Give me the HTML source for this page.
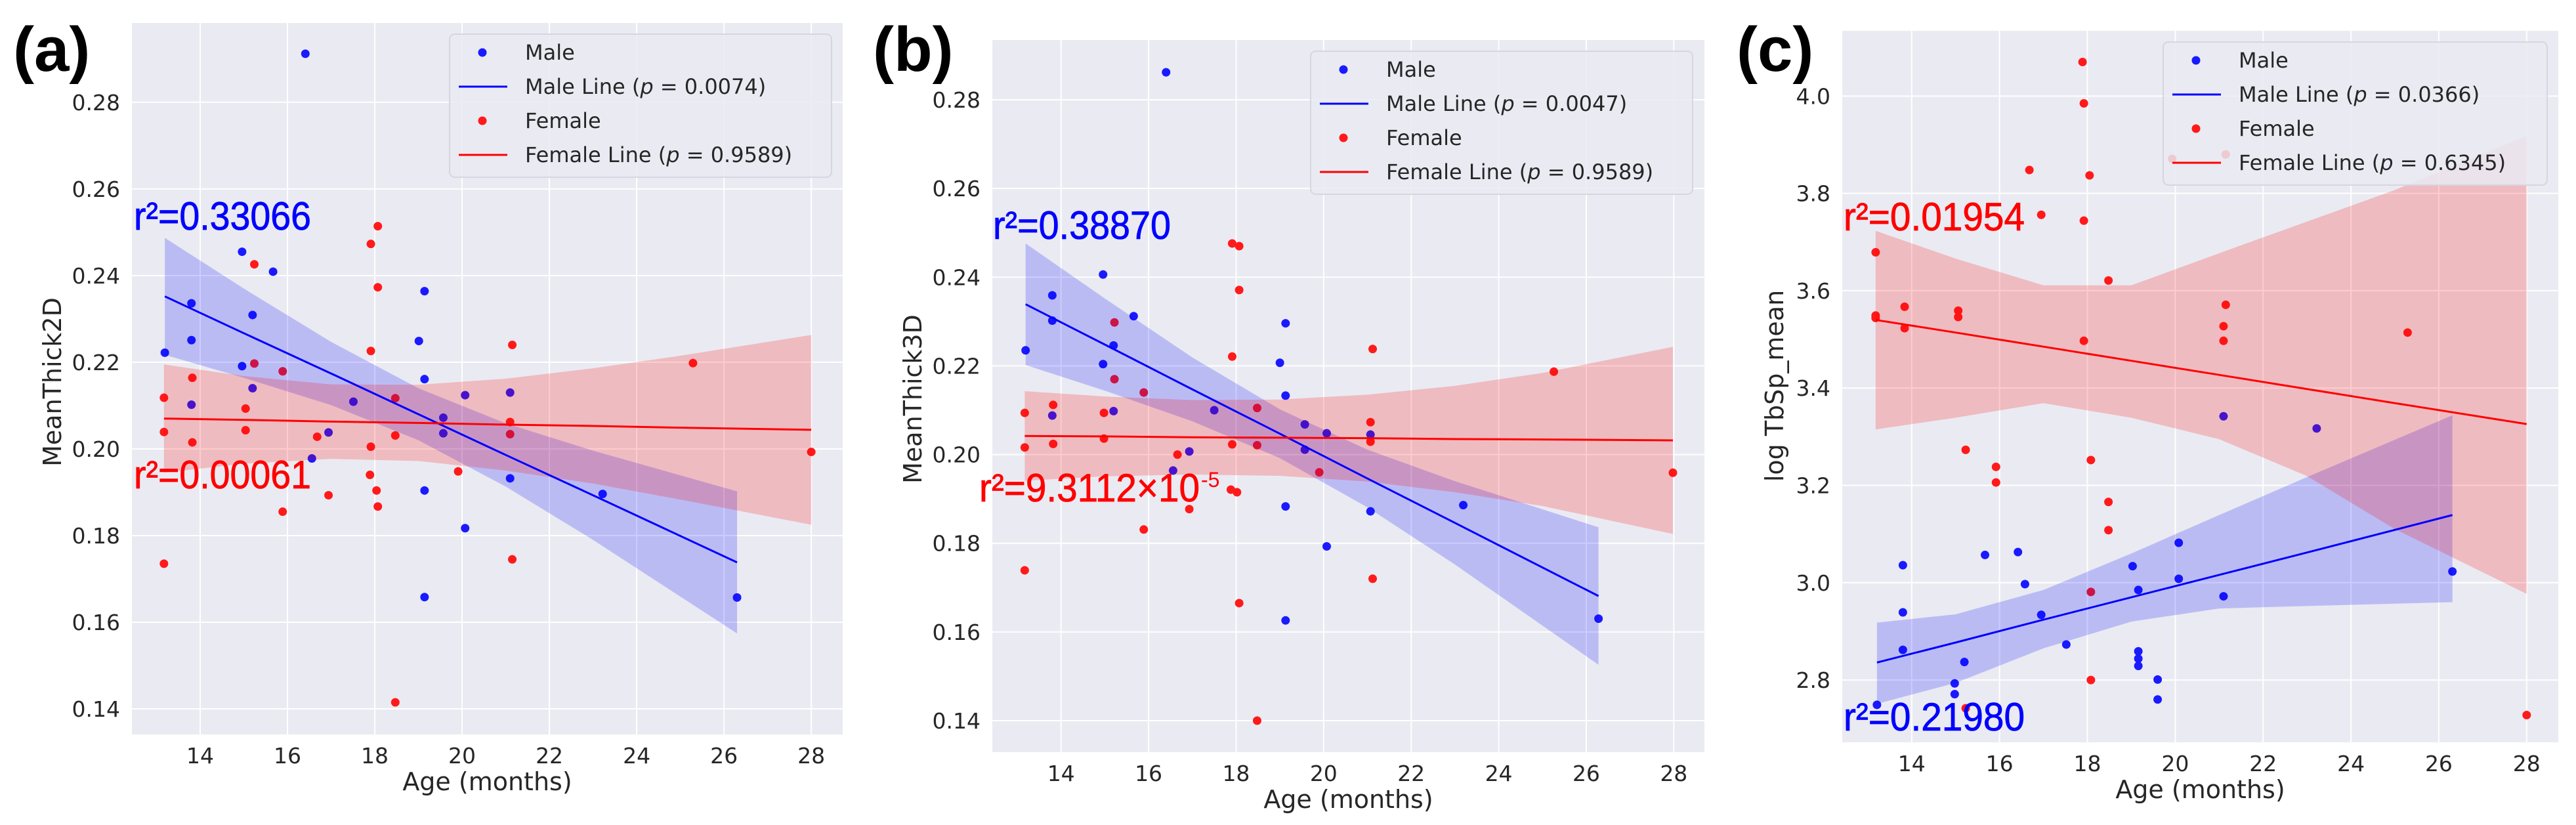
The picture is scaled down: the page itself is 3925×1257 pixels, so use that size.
<!DOCTYPE html>
<html><head><meta charset="utf-8"><title>Age regressions</title>
<style>
html,body{margin:0;padding:0;background:#fff;}
svg{display:block;}
text{font-family:"DejaVu Sans","Liberation Sans",sans-serif;}
.tick{font-size:33px;fill:#262626;}
.axl{font-size:38px;fill:#262626;}
.leg{font-size:32px;fill:#262626;}
.r2{font-family:"Liberation Sans",sans-serif;font-size:60px;stroke-width:0.8px;}
.sup{font-family:"Liberation Sans",sans-serif;font-size:32px;}
.pl{font-family:"Liberation Sans",sans-serif;font-size:96px;font-weight:bold;fill:#000;}
</style></head>
<body>
<svg id="fig" xmlns="http://www.w3.org/2000/svg" width="3925" height="1257" viewBox="0 0 3925 1257"></svg>
<script>
// ---------- Panel (a) MeanThick2D ----------
const aMaleX=[16.41,14.96,15.67,13.80,15.2,19.14,13.8,19.01,13.19,14.96,19.14,15.2,13.8,17.51,20.07,21.1,19.57,19.57,16.94,16.56,21.1,19.14,23.22,20.07,19.14,26.3];
const aMaleY=[0.2912,0.2455,0.2409,0.2336,0.2309,0.2364,0.2251,0.2249,0.2222,0.2191,0.2161,0.2140,0.2102,0.2109,0.2124,0.2130,0.2072,0.2036,0.2038,0.1978,0.1932,0.1904,0.1896,0.1817,0.1658,0.1657];
const aFemX=[18.07,17.91,15.24,18.07,17.91,21.15,25.29,15.24,15.89,13.82,13.17,18.47,15.04,21.1,13.17,15.04,16.68,18.47,21.1,13.82,17.91,28.0,19.91,17.89,18.04,16.94,18.07,15.89,13.17,21.15,18.47];
const aFemY=[0.2514,0.2473,0.2426,0.2373,0.2226,0.2240,0.2198,0.2197,0.2179,0.2164,0.2118,0.2117,0.2093,0.2062,0.2039,0.2043,0.2028,0.2031,0.2034,0.2015,0.2005,0.1993,0.1948,0.1940,0.1904,0.1893,0.1867,0.1855,0.1735,0.1745,0.1415];
const aMaleKx=[13.19,15,17,19,21,23,26.3];
const aMaleLine=[0.2352,0.2267,0.2174,0.2080,0.1986,0.1893,0.1738];
const aMaleUp=[0.2487,0.2370,0.2247,0.2140,0.2059,0.1996,0.1902];
const aMaleLo=[0.2217,0.2164,0.2101,0.2020,0.1913,0.1790,0.1574];
const aFemKx=[13.17,15,17,19,21,23,25,28];
const aFemLine=[0.2070,0.2067,0.2063,0.2060,0.2056,0.2053,0.2049,0.2044];
const aFemUp=[0.2195,0.2168,0.2149,0.2148,0.2162,0.2186,0.2215,0.2263];
const aFemLo=[0.1945,0.1966,0.1977,0.1972,0.1950,0.1920,0.1883,0.1825];
const aYTicks=[0.14,0.16,0.18,0.20,0.22,0.24,0.26,0.28];
const aYTickLabels=["0.14","0.16","0.18","0.20","0.22","0.24","0.26","0.28"];
const aPvals=["0.0074","0.9589"];

// ---------- Panel (b) MeanThick3D ----------
const bMaleX=[16.40,14.96,13.80,15.66,13.8,19.13,13.19,15.2,19.0,14.96,19.13,17.5,15.2,13.8,19.57,20.07,21.07,16.93,19.57,16.56,19.13,23.19,21.07,20.07,19.13,26.28];
const bMaleY=[0.2862,0.2406,0.2359,0.2312,0.2302,0.2296,0.2235,0.2246,0.2207,0.2204,0.2133,0.2100,0.2098,0.2088,0.2068,0.2048,0.2045,0.2007,0.2011,0.1964,0.1883,0.1886,0.1872,0.1793,0.1626,0.1630];
const bFemX=[17.91,18.07,18.07,15.22,17.91,21.12,25.26,15.22,15.89,13.82,18.48,13.17,14.98,21.07,21.07,14.98,13.82,17.91,18.48,13.17,16.66,19.9,27.98,17.88,18.02,16.93,15.89,13.17,21.12,18.07,18.48];
const bFemY=[0.2476,0.2470,0.2371,0.2298,0.2221,0.2238,0.2187,0.2170,0.2140,0.2112,0.2105,0.2094,0.2094,0.2073,0.2029,0.2036,0.2024,0.2023,0.2021,0.2016,0.2000,0.1960,0.1959,0.1921,0.1915,0.1877,0.1831,0.1739,0.1720,0.1665,0.1400];
const bMaleKx=[13.19,15,17,19,21,23,26.28];
const bMaleLine=[0.2339,0.2248,0.2147,0.2047,0.1946,0.1846,0.1681];
const bMaleUp=[0.2476,0.2352,0.2219,0.2102,0.2011,0.1940,0.1836];
const bMaleLo=[0.2202,0.2144,0.2075,0.1992,0.1881,0.1752,0.1526];
const bFemKx=[13.17,15,17,19,21,23,25,27.98];
const bFemLine=[0.2042,0.2041,0.2039,0.2038,0.2037,0.2035,0.2034,0.2032];
const bFemUp=[0.2143,0.2131,0.2123,0.2124,0.2135,0.2155,0.2184,0.2243];
const bFemLo=[0.1941,0.1951,0.1955,0.1952,0.1939,0.1915,0.1884,0.1821];
const bYTicks=[0.14,0.16,0.18,0.20,0.22,0.24,0.26,0.28];
const bYTickLabels=["0.14","0.16","0.18","0.20","0.22","0.24","0.26","0.28"];
const bPvals=["0.0047","0.9589"];

// ---------- Panel (c) log TbSp_mean ----------
const cMaleX=[21.10,23.22,20.08,15.67,16.42,13.80,19.03,26.31,16.58,20.08,19.16,21.10,13.80,16.95,17.52,13.80,19.16,19.16,19.16,15.2,19.60,14.98,14.98,19.60,13.21];
const cMaleY=[3.342,3.317,3.082,3.057,3.063,3.036,3.034,3.023,2.997,3.008,2.985,2.972,2.939,2.934,2.873,2.862,2.859,2.844,2.829,2.837,2.801,2.793,2.771,2.760,2.749];
const cFemX=[17.89,17.92,16.68,18.05,16.95,17.92,13.18,18.48,21.15,13.84,15.06,13.18,13.18,15.06,13.84,21.10,25.29,17.92,21.10,15.23,15.92,15.92,18.08,18.48,18.48,18.08,18.08,15.23,28.0,19.93,21.15];
const cFemY=[4.070,3.985,3.848,3.837,3.756,3.744,3.679,3.621,3.571,3.567,3.559,3.549,3.544,3.546,3.523,3.527,3.514,3.497,3.497,3.273,3.238,3.206,3.252,3.166,3.108,2.981,2.800,2.742,2.728,3.871,3.880];
const cMaleKx=[13.21,15,17,19,21,23,26.31];
const cMaleLine=[2.836,2.877,2.924,2.970,3.016,3.062,3.139];
const cMaleUp=[2.918,2.935,2.985,3.060,3.139,3.217,3.344];
const cMaleLo=[2.751,2.794,2.865,2.920,2.947,2.952,2.960];
const cFemKx=[13.18,15,17,19,21,23,25,28];
const cFemLine=[3.540,3.514,3.485,3.456,3.427,3.398,3.369,3.326];
const cFemUp=[3.723,3.666,3.611,3.611,3.677,3.742,3.807,3.918];
const cFemLo=[3.315,3.339,3.369,3.339,3.295,3.219,3.110,2.977];
const cYTicks=[2.8,3.0,3.2,3.4,3.6,3.8,4.0];
const cYTickLabels=["2.8","3.0","3.2","3.4","3.6","3.8","4.0"];
const cPvals=["0.0366","0.6345"];

const xTicks=[14,16,18,20,22,24,26,28];
const xTickLabels=["14","16","18","20","22","24","26","28"];

const NS="http://www.w3.org/2000/svg";
const fig=document.getElementById('fig');
function mk(tag,attrs,parent){const e=document.createElementNS(NS,tag);for(const k in attrs)e.setAttribute(k,attrs[k]);(parent||fig).appendChild(e);return e;}

function panel(P){
  const g=mk('g',{});
  
  
  const sx=v=>P.L+(v-P.x0)/(P.x1-P.x0)*(P.R-P.L);
  const sy=v=>P.B-(v-P.y0)/(P.y1-P.y0)*(P.B-P.T);
  const bg=mk('rect',{x:P.L,y:P.T,width:P.R-P.L,height:P.B-P.T,fill:'#eaeaf2'},g);
  
  
  xTicks.forEach((t,i)=>{
    const gl=mk('line',{x1:sx(t),x2:sx(t),y1:P.T,y2:P.B,stroke:'#fff','stroke-width':2},g);
    
    
    const tl=mk('text',{x:sx(t),y:P.xtY,'text-anchor':'middle',class:'tick'},g);
    tl.textContent=xTickLabels[i];
    
    
  });
  P.yt.forEach((t,i)=>{
    const gl=mk('line',{x1:P.L,x2:P.R,y1:sy(t),y2:sy(t),stroke:'#fff','stroke-width':2},g);
    
    
    const tl=mk('text',{x:P.L-18,y:sy(t)+12,'text-anchor':'end',class:'tick'},g);
    tl.textContent=P.ytl[i];
    
    
  });
  function band(kx,up,lo,col,name){
    let d='M'+kx.map((x,i)=>sx(x)+','+sy(up[i])).join('L');
    d+='L'+kx.slice().reverse().map((x,j)=>{const i=kx.length-1-j;return sx(x)+','+sy(lo[i]);}).join('L')+'Z';
    const p=mk('path',{d:d,fill:col,'fill-opacity':0.2},g);
    
    
  }
  function line(kx,ys,col,name){
    const p=mk('polyline',{points:kx.map((x,i)=>sx(x)+','+sy(ys[i])).join(' '),fill:'none',stroke:col,'stroke-width':3},g);
    
    
  }
  function pts(xs,ys,col,name){
    xs.forEach((x,i)=>{
      const c=mk('circle',{cx:sx(x),cy:sy(ys[i]),r:6.5,fill:col},g);
      
      
    });
  }
  pts(P.mx,P.my,'#1a1aff','male-point');
  pts(P.fx,P.fy,'#ff1a1a','female-point');
  band(P.mkx,P.mup,P.mlo,'#0000ff','male-ci-band');
  band(P.fkx,P.fup,P.flo,'#ff0000','female-ci-band');
  line(P.mkx,P.mline,'#0000ff','male-regression-line');
  line(P.fkx,P.fline,'#ff0000','female-regression-line');
  const xl=mk('text',{x:(P.L+P.R)/2,y:P.B+85,'text-anchor':'middle',class:'axl'},g);
  xl.textContent='Age (months)';
  
  
  const yl=mk('text',{x:0,y:0,'text-anchor':'middle',class:'axl',transform:'translate('+(P.ylx+13)+','+P.yly+') rotate(-90)'},g);
  yl.textContent=P.ylabel;
  
  
  const lg=mk('g',{},g);
  
  
  mk('rect',{x:P.lgx,y:P.lgy,width:P.lgw,height:218,rx:8,fill:'#eaeaf2','fill-opacity':0.85,stroke:'#d6d6de','stroke-width':2},lg);
  const rows=[['dot','#1a1aff','Male',null],['line','#0000ff','Male Line (',P.pv[0]],['dot','#ff1a1a','Female',null],['line','#ff0000','Female Line (',P.pv[1]]];
  rows.forEach((r,i)=>{
    const cy=P.lgy+28+i*52;
    if(r[0]==='dot'){const c=mk('circle',{cx:P.lgx+50,cy:cy,r:6.5,fill:r[1]},lg);}
    else{const l=mk('line',{x1:P.lgx+14,x2:P.lgx+88,y1:cy,y2:cy,stroke:r[1],'stroke-width':3},lg);}
    const t=mk('text',{x:P.lgx+115,y:cy+11,class:'leg'},lg);
    
    
    if(r[3]===null){t.textContent=r[2];}
    else{
      t.appendChild(document.createTextNode(r[2]));
      const ts=mk('tspan',{'font-style':'italic'},t);ts.textContent='p';
      t.appendChild(document.createTextNode(' = '+r[3]+')'));
    }
  });
  const rb=mk('text',{x:P.rbx,y:P.rby,class:'r2',fill:'#0000ff',stroke:'#0000ff',textLength:P.rbw,lengthAdjust:'spacingAndGlyphs'},g);
  rb.textContent=P.rbt;
  
  
  const rr=mk('text',{x:P.rrx,y:P.rry,class:'r2',fill:'#ff0000',stroke:'#ff0000',textLength:P.rrw,lengthAdjust:'spacingAndGlyphs'},g);
  rr.textContent=P.rrt;
  
  
  if(P.rrsup){
    const s=mk('text',{x:P.rrx+P.rrw+2,y:P.rry-22,class:'sup',fill:'#ff0000'},g);
    s.textContent=P.rrsup;
    
    
  }
  const pl=mk('text',{x:P.plx,y:108,class:'pl'},g);
  pl.textContent='('+P.id+')';
  
  
}

panel({id:'a',L:201,R:1284,T:35,B:1119,x0:12.436,x1:28.72,y0:0.1341,y1:0.2983,xtY:1163,
  yt:aYTicks,ytl:aYTickLabels,mx:aMaleX,my:aMaleY,fx:aFemX,fy:aFemY,
  mkx:aMaleKx,mline:aMaleLine,mup:aMaleUp,mlo:aMaleLo,fkx:aFemKx,fline:aFemLine,fup:aFemUp,flo:aFemLo,
  ylabel:'MeanThick2D',ylx:80,yly:582,lgx:685,lgy:52,lgw:582,pv:aPvals,
  rbx:204,rby:350,rbw:270,rbt:'r²=0.33066',rrx:204,rry:744,rrw:270,rrt:'r²=0.00061',plx:20});
panel({id:'b',L:1512,R:2597,T:61,B:1146,x0:12.43,x1:28.70,y0:0.1329,y1:0.29347,xtY:1190,
  yt:bYTicks,ytl:bYTickLabels,mx:bMaleX,my:bMaleY,fx:bFemX,fy:bFemY,
  mkx:bMaleKx,mline:bMaleLine,mup:bMaleUp,mlo:bMaleLo,fkx:bFemKx,fline:bFemLine,fup:bFemUp,flo:bFemLo,
  ylabel:'MeanThick3D',ylx:1391,yly:608,lgx:1997,lgy:78,lgw:582,pv:bPvals,
  rbx:1513,rby:364,rbw:271,rbt:'r²=0.38870',rrx:1492,rry:764,rrw:336,rrt:'r²=9.3112×10',rrsup:'-5',plx:1330});
panel({id:'c',L:2807,R:3898,T:47,B:1131,x0:12.42,x1:28.72,y0:2.672,y1:4.134,xtY:1175,
  yt:cYTicks,ytl:cYTickLabels,mx:cMaleX,my:cMaleY,fx:cFemX,fy:cFemY,
  mkx:cMaleKx,mline:cMaleLine,mup:cMaleUp,mlo:cMaleLo,fkx:cFemKx,fline:cFemLine,fup:cFemUp,flo:cFemLo,
  ylabel:'log TbSp_mean',ylx:2704,yly:588,lgx:3296,lgy:64,lgw:585,pv:cPvals,
  rbx:2809,rby:1113,rbw:276,rbt:'r²=0.21980',rrx:2809,rry:351,rrw:276,rrt:'r²=0.01954',plx:2646});
</script>
</body></html>
